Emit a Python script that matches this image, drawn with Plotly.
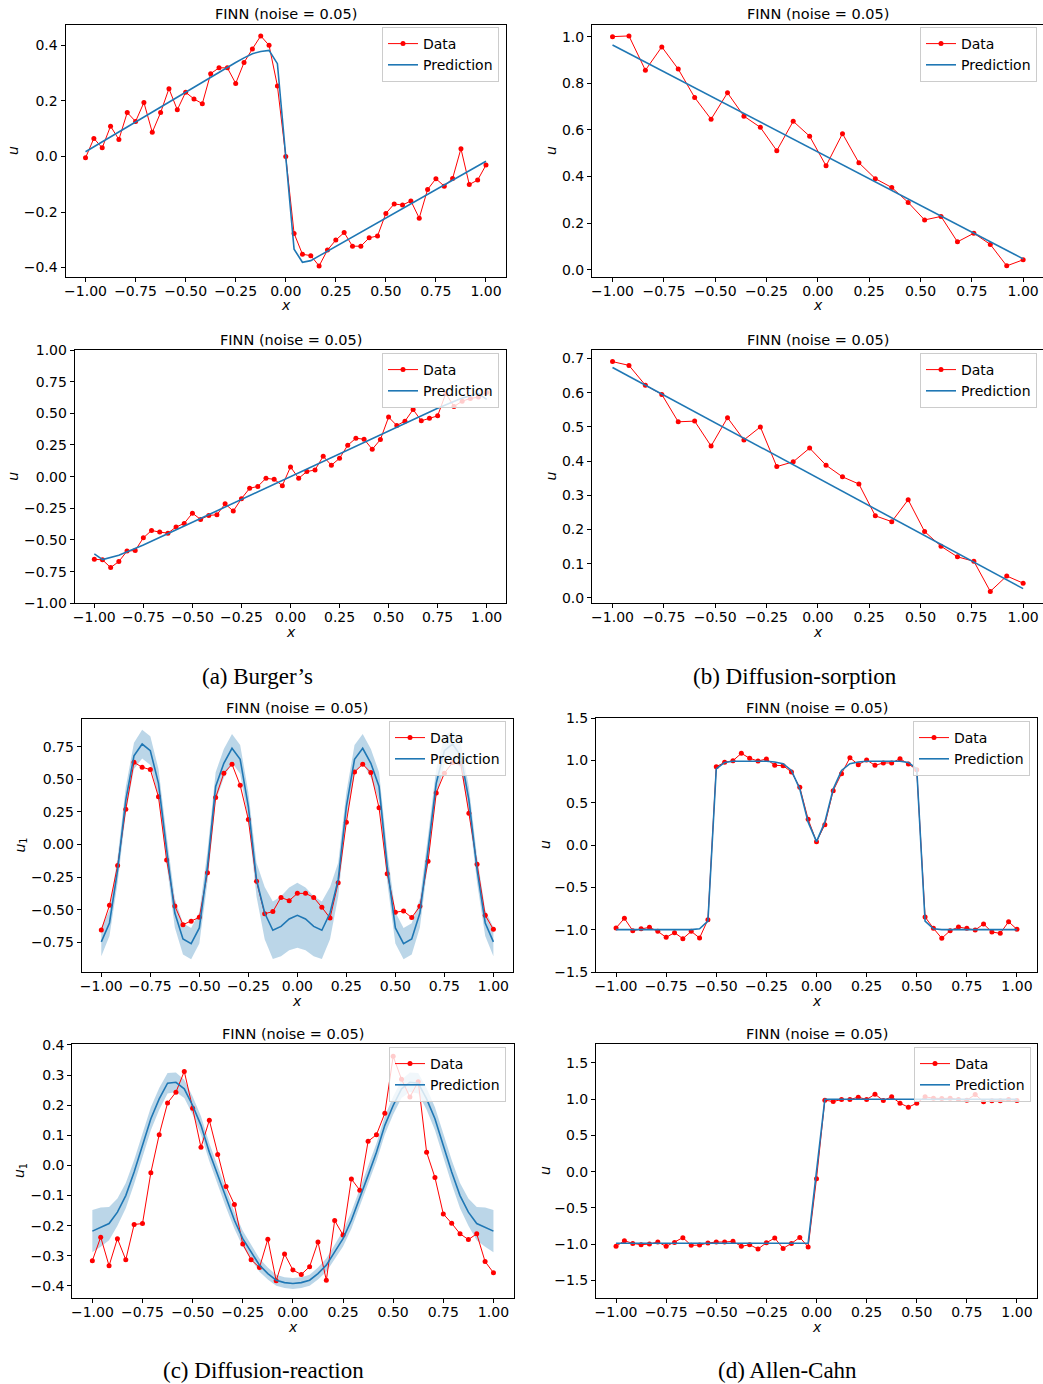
import numpy as np
import plotly.graph_objects as go

W, H = 1043, 1384

# ---------------- data ----------------
x49 = np.linspace(-1, 1, 49)
x26 = np.linspace(-1, 1, 26)

# (a) Burger's, top
burg1_data = [-0.005, 0.065, 0.031, 0.109, 0.061, 0.158, 0.126, 0.194, 0.087, 0.158,
              0.244, 0.168, 0.231, 0.207, 0.190, 0.298, 0.319, 0.319, 0.263, 0.338,
              0.387, 0.434, 0.400, 0.254, 0.000, -0.277, -0.352, -0.357, -0.394, -0.337,
              -0.301, -0.274, -0.323, -0.323, -0.293, -0.286, -0.205, -0.171, -0.175, -0.160,
              -0.222, -0.119, -0.080, -0.107, -0.079, 0.028, -0.101, -0.085, -0.031]
burg1_pred = [0.017, 0.035, 0.053, 0.071, 0.088, 0.106, 0.124, 0.142, 0.160, 0.177,
              0.195, 0.213, 0.231, 0.249, 0.267, 0.284, 0.302, 0.320, 0.338, 0.355,
              0.370, 0.378, 0.382, 0.334, 0.000, -0.334, -0.381, -0.375, -0.358, -0.341,
              -0.324, -0.307, -0.290, -0.273, -0.256, -0.239, -0.222, -0.205, -0.188, -0.170,
              -0.153, -0.136, -0.119, -0.102, -0.085, -0.068, -0.051, -0.034, -0.017]

# (a) Burger's, bottom
burg2_data = [-0.652, -0.657, -0.718, -0.670, -0.588, -0.583, -0.483, -0.425, -0.438, -0.446,
              -0.398, -0.369, -0.288, -0.338, -0.306, -0.301, -0.214, -0.272, -0.174, -0.092,
              -0.077, -0.013, -0.021, -0.071, 0.077, -0.013, 0.040, 0.053, 0.161, 0.090,
              0.145, 0.248, 0.303, 0.296, 0.216, 0.293, 0.470, 0.404, 0.438, 0.530,
              0.441, 0.462, 0.480, 0.657, 0.554, 0.596, 0.617, 0.628, 0.665]
burg2_pred_x = [-1.0, -0.958, -0.875, -0.75, -0.5, -0.25, 0.0, 0.25, 0.5, 0.75, 0.875, 0.958, 1.0]
burg2_pred = [-0.61, -0.655, -0.62, -0.54, -0.36, -0.18, 0.0, 0.18, 0.36, 0.54, 0.62, 0.655, 0.61]

# (b) Diffusion-sorption, top
ds1_data = [1.000, 1.003, 0.856, 0.956, 0.861, 0.739, 0.646, 0.759, 0.659, 0.611,
            0.511, 0.637, 0.573, 0.446, 0.584, 0.459, 0.391, 0.353, 0.289, 0.214,
            0.229, 0.120, 0.157, 0.109, 0.017, 0.043]
ds1_pred_x = [-1.0, 0.0, 1.0]
ds1_pred = [0.964, 0.506, 0.047]

# (b) Diffusion-sorption, bottom
ds2_data = [0.691, 0.680, 0.622, 0.595, 0.515, 0.517, 0.444, 0.527, 0.462, 0.500,
            0.384, 0.398, 0.438, 0.388, 0.354, 0.333, 0.240, 0.223, 0.287, 0.194,
            0.151, 0.120, 0.107, 0.019, 0.064, 0.043]
ds2_pred_x = [-1.0, 0.0, 1.0]
ds2_pred = [0.674, 0.350, 0.027]

# (c) Diffusion-reaction, top
dr1_data = [-0.656, -0.467, -0.161, 0.270, 0.630, 0.592, 0.574, 0.365, -0.120, -0.472,
            -0.615, -0.589, -0.559, -0.217, 0.360, 0.546, 0.615, 0.454, 0.191, -0.283,
            -0.531, -0.515, -0.406, -0.431, -0.375, -0.375, -0.406, -0.482, -0.564, -0.293,
            0.171, 0.556, 0.615, 0.551, 0.281, -0.224, -0.520, -0.510, -0.561, -0.474,
            -0.128, 0.395, 0.546, 0.628, 0.622, 0.240, -0.151, -0.543, -0.651]
dr1_pred = [-0.747, -0.602, -0.194, 0.342, 0.679, 0.770, 0.719, 0.469, -0.041, -0.526,
            -0.724, -0.760, -0.640, -0.168, 0.444, 0.622, 0.737, 0.653, 0.291, -0.270,
            -0.526, -0.658, -0.628, -0.571, -0.543, -0.571, -0.628, -0.658, -0.526, -0.270,
            0.291, 0.653, 0.737, 0.622, 0.444, -0.168, -0.640, -0.760, -0.724, -0.526,
            -0.041, 0.469, 0.719, 0.770, 0.679, 0.342, -0.194, -0.602, -0.747]
dr1_std = [0.11, 0.10, 0.10, 0.10, 0.10, 0.11, 0.11, 0.11, 0.11, 0.11,
           0.12, 0.12, 0.12, 0.12, 0.11, 0.11, 0.11, 0.11, 0.11, 0.13,
           0.20, 0.22, 0.23, 0.24, 0.25, 0.24, 0.23, 0.22, 0.20, 0.13,
           0.11, 0.11, 0.11, 0.11, 0.11, 0.12, 0.12, 0.12, 0.12, 0.11,
           0.11, 0.11, 0.11, 0.11, 0.10, 0.10, 0.10, 0.10, 0.11]

# (c) Diffusion-reaction, bottom
dr2_data = [-0.316, -0.238, -0.333, -0.243, -0.313, -0.196, -0.193, -0.024, 0.102, 0.207,
            0.243, 0.312, 0.190, 0.060, 0.150, 0.036, -0.070, -0.130, -0.261, -0.313,
            -0.339, -0.245, -0.383, -0.294, -0.347, -0.362, -0.336, -0.254, -0.381, -0.183,
            -0.231, -0.045, -0.082, 0.080, 0.102, 0.173, 0.362, 0.286, 0.227, 0.278,
            0.044, -0.040, -0.161, -0.192, -0.227, -0.246, -0.227, -0.319, -0.356]
dr2_pred = [-0.218, -0.205, -0.193, -0.155, -0.100, -0.022, 0.066, 0.155, 0.221, 0.273,
            0.276, 0.254, 0.199, 0.133, 0.044, -0.033, -0.110, -0.182, -0.243, -0.287,
            -0.331, -0.359, -0.381, -0.389, -0.392, -0.389, -0.381, -0.359, -0.331, -0.287,
            -0.243, -0.182, -0.110, -0.033, 0.044, 0.133, 0.199, 0.254, 0.276, 0.273,
            0.221, 0.155, 0.066, -0.022, -0.100, -0.155, -0.193, -0.205, -0.218]
dr2_std = [0.070, 0.065, 0.055, 0.045, 0.042, 0.040, 0.040, 0.038, 0.036, 0.034,
           0.032, 0.030, 0.030, 0.030, 0.030, 0.030, 0.030, 0.028, 0.026, 0.024,
           0.022, 0.020, 0.018, 0.018, 0.018, 0.018, 0.018, 0.020, 0.022, 0.024,
           0.026, 0.028, 0.030, 0.030, 0.030, 0.030, 0.030, 0.030, 0.032, 0.034,
           0.036, 0.038, 0.040, 0.040, 0.042, 0.045, 0.055, 0.065, 0.070]

# (d) Allen-Cahn, top
ac1_data = [-0.980, -0.866, -1.012, -0.988, -0.972, -1.020, -1.091, -1.035, -1.106, -1.020,
            -1.098, -0.882, 0.925, 0.976, 0.996, 1.083, 1.024, 0.992, 1.016, 0.941,
            0.937, 0.862, 0.681, 0.303, 0.039, 0.240, 0.642, 0.843, 1.031, 0.949,
            1.004, 0.941, 0.969, 0.969, 1.020, 0.957, 0.890, -0.850, -0.984, -1.102,
            -1.012, -0.969, -0.984, -1.004, -0.933, -1.028, -1.043, -0.906, -0.996]
ac1_pred = [-1.0, -1.0, -1.0, -1.0, -1.0, -1.0, -1.0, -1.0, -1.0, -1.0,
            -0.99, -0.90, 0.90, 0.975, 0.99, 0.99, 0.99, 0.99, 0.99, 0.98,
            0.96, 0.88, 0.66, 0.27, 0.04, 0.27, 0.66, 0.88, 0.96, 0.98,
            0.99, 0.99, 0.99, 0.99, 0.99, 0.975, 0.90, -0.90, -0.99, -1.0,
            -1.0, -1.0, -1.0, -1.0, -1.0, -1.0, -1.0, -1.0, -1.0]

# (d) Allen-Cahn, bottom
ac2_data = [-1.032, -0.954, -0.991, -1.009, -1.000, -0.972, -1.032, -0.977, -0.912, -1.018,
            -1.014, -0.986, -0.972, -0.972, -0.963, -1.032, -1.009, -1.069, -0.982, -0.917,
            -1.060, -0.991, -0.908, -1.041, -0.097, 0.986, 0.968, 0.995, 0.995, 1.028,
            0.995, 1.069, 0.982, 1.032, 0.945, 0.889, 0.945, 1.032, 1.014, 1.009,
            1.014, 0.995, 0.986, 1.065, 0.963, 0.977, 0.977, 0.995, 0.982]
ac2_pred_x = [-1.0, -0.0417, 0.0417, 1.0]
ac2_pred = [-0.99, -0.99, 1.0, 1.0]

x_ticks = [-1.0, -0.75, -0.5, -0.25, 0.0, 0.25, 0.5, 0.75, 1.0]
title_text = "FINN (noise = 0.05)"
captions = ["(a) Burger\u2019s", "(b) Diffusion-sorption", "(c) Diffusion-reaction", "(d) Allen-Cahn"]

# ---------------- layout helpers ----------------
def fx(p):
    return p / W


def fy(p):
    return 1 - p / H


def fmt(v, d):
    s = f"{v:.{d}f}"
    if s.startswith("-"):
        s = "\u2212" + s[1:]
    return s


RED = "#ff0000"
BLUE = "#1f77b4"
FONT = "DejaVu Sans"

panels = [
    dict(box=(65.5, 24.5, 506, 277.3), yr=[-0.435, 0.475], yt=[-0.4, -0.2, 0.0, 0.2, 0.4], yd=1,
         xr=[-1.1, 1.1], ylab="<i>u</i>", ylx=13, xly=305, ty=14, leg=(499, 27),
         data=(x49, burg1_data), pred=(x49, burg1_pred), band=None),
    dict(box=(592, 24.5, 1043, 277.3), yr=[-0.032, 1.052], yt=[0.0, 0.2, 0.4, 0.6, 0.8, 1.0], yd=1,
         xr=[-1.1, 1.0967], ylab="<i>u</i>", ylx=551, xly=305, ty=14, leg=(1037, 27),
         data=(x26, ds1_data), pred=(ds1_pred_x, ds1_pred), band=None),
    dict(box=(74.7, 350, 506.3, 603.3), yr=[-1.0, 1.0],
         yt=[-1.0, -0.75, -0.5, -0.25, 0.0, 0.25, 0.5, 0.75, 1.0], yd=2,
         xr=[-1.1, 1.1], ylab="<i>u</i>", ylx=13, xly=632, ty=340, leg=(499, 353),
         data=(x49, burg2_data), pred=(burg2_pred_x, burg2_pred), band=None),
    dict(box=(592, 350, 1043, 603), yr=[-0.015, 0.725], yt=[0.0, 0.1, 0.2, 0.3, 0.4, 0.5, 0.6, 0.7], yd=1,
         xr=[-1.1, 1.0967], ylab="<i>u</i>", ylx=551, xly=632, ty=340, leg=(1037, 353),
         data=(x26, ds2_data), pred=(ds2_pred_x, ds2_pred), band=None),
    dict(box=(81.7, 719, 513, 972), yr=[-0.978, 0.962],
         yt=[-0.75, -0.5, -0.25, 0.0, 0.25, 0.5, 0.75], yd=2,
         xr=[-1.1, 1.1], ylab="<i>u</i><sub>1</sub>", ylx=20, xly=1001, ty=708, leg=(506, 721),
         data=(x49, dr1_data), pred=(x49, dr1_pred), band=dr1_std),
    dict(box=(596, 718, 1037, 972), yr=[-1.5, 1.5], yt=[-1.5, -1.0, -0.5, 0.0, 0.5, 1.0, 1.5], yd=1,
         xr=[-1.1, 1.1], ylab="<i>u</i>", ylx=545, xly=1001, ty=708, leg=(1030, 721),
         data=(x49, ac1_data), pred=(x49, ac1_pred), band=None),
    dict(box=(72.3, 1044, 513.5, 1298), yr=[-0.44, 0.403],
         yt=[-0.4, -0.3, -0.2, -0.1, 0.0, 0.1, 0.2, 0.3, 0.4], yd=1,
         xr=[-1.1, 1.1], ylab="<i>u</i><sub>1</sub>", ylx=20, xly=1327, ty=1034, leg=(506, 1047),
         data=(x49, dr2_data), pred=(x49, dr2_pred), band=dr2_std),
    dict(box=(596, 1044, 1037, 1298), yr=[-1.745, 1.762], yt=[-1.5, -1.0, -0.5, 0.0, 0.5, 1.0, 1.5], yd=1,
         xr=[-1.1, 1.1], ylab="<i>u</i>", ylx=545, xly=1327, ty=1034, leg=(1031, 1047),
         data=(x49, ac2_data), pred=(ac2_pred_x, ac2_pred), band=None),
]

fig = go.Figure()
annotations = []
layout_axes = {}

for i, p in enumerate(panels, start=1):
    sfx = "" if i == 1 else str(i)
    xa, ya = f"x{sfx}", f"y{sfx}"
    legname = "legend" if i == 1 else f"legend{i}"
    l, t, r, b = p["box"]

    # uncertainty band
    if p["band"] is not None:
        xs = np.asarray(p["pred"][0])
        mu = np.asarray(p["pred"][1])
        sd = np.asarray(p["band"])
        fig.add_trace(go.Scatter(
            x=np.concatenate([xs, xs[::-1]]),
            y=np.concatenate([mu + sd, (mu - sd)[::-1]]),
            fill="toself", fillcolor="rgba(31,119,180,0.3)",
            line=dict(width=0), mode="lines", hoverinfo="skip",
            showlegend=False, xaxis=xa, yaxis=ya, legend=legname))

    fig.add_trace(go.Scatter(
        x=p["data"][0], y=p["data"][1], mode="lines+markers", name="Data",
        line=dict(color=RED, width=1), marker=dict(color=RED, size=5),
        xaxis=xa, yaxis=ya, legend=legname))
    fig.add_trace(go.Scatter(
        x=p["pred"][0], y=p["pred"][1], mode="lines", name="Prediction",
        line=dict(color=BLUE, width=1.6),
        xaxis=xa, yaxis=ya, legend=legname))

    common = dict(showline=True, mirror=True, linecolor="#000000", linewidth=1,
                  ticks="outside", ticklen=4, tickwidth=1, tickcolor="#000000",
                  showgrid=False, zeroline=False, automargin=False,
                  tickfont=dict(family=FONT, size=14, color="#000000"))
    layout_axes[f"xaxis{sfx}"] = dict(
        domain=[fx(l), fx(r)], range=p["xr"], anchor=ya,
        tickmode="array", tickvals=x_ticks, ticktext=[fmt(v, 2) for v in x_ticks],
        ticklabelstandoff=-3, **common)
    layout_axes[f"yaxis{sfx}"] = dict(
        domain=[fy(b), fy(t)], range=p["yr"], anchor=xa,
        tickmode="array", tickvals=p["yt"], ticktext=[fmt(v, p["yd"]) for v in p["yt"]],
        **common)

    # legend
    layout_axes[legname] = dict(
        x=fx(p["leg"][0]), y=fy(p["leg"][1]), xanchor="right", yanchor="top",
        xref="paper", yref="paper",
        bgcolor="rgba(255,255,255,0.8)", bordercolor="#cccccc", borderwidth=1,
        font=dict(family=FONT, size=14, color="#000000"),
        tracegroupgap=0, itemwidth=30)

    # title
    annotations.append(dict(
        x=fx((l + r) / 2), y=fy(p["ty"]), xref="paper", yref="paper",
        text=title_text, showarrow=False, xanchor="center", yanchor="middle",
        font=dict(family=FONT, size=14.5, color="#000000")))
    # x label
    annotations.append(dict(
        x=fx((l + r) / 2), y=fy(p["xly"]), xref="paper", yref="paper",
        text="<i>x</i>", showarrow=False, xanchor="center", yanchor="middle",
        font=dict(family=FONT, size=14, color="#000000")))
    # y label
    annotations.append(dict(
        x=fx(p["ylx"]), y=fy((t + b) / 2), xref="paper", yref="paper",
        text=p["ylab"], showarrow=False, xanchor="center", yanchor="middle",
        textangle=-90, font=dict(family=FONT, size=14, color="#000000")))

# captions
cap_pos = [(257, 676), (795, 676), (263, 1370), (787, 1370)]
for txt, (cx, cy) in zip(captions, cap_pos):
    annotations.append(dict(
        x=fx(cx), y=fy(cy), xref="paper", yref="paper", text=txt, showarrow=False,
        xanchor="center", yanchor="middle",
        font=dict(family="Liberation Serif", size=23, color="#000000")))

fig.update_layout(
    width=W, height=H,
    margin=dict(l=0, r=0, t=0, b=0, pad=0, autoexpand=False),
    paper_bgcolor="white", plot_bgcolor="white",
    annotations=annotations, **layout_axes)

fig.write_html("out.html")
